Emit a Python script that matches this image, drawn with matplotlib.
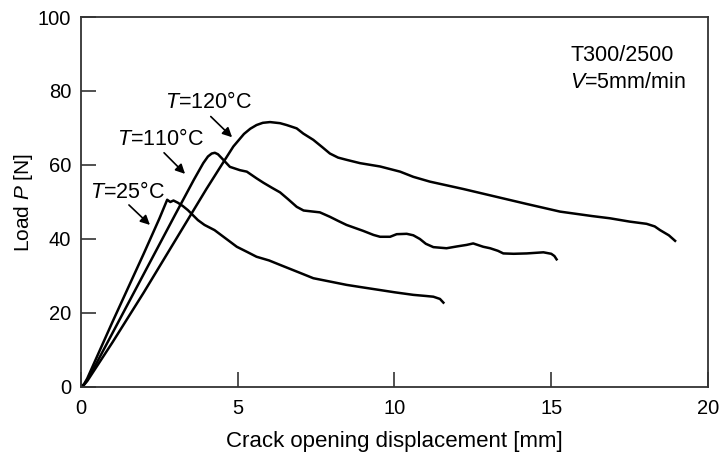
import numpy as np
import matplotlib.pyplot as plt

plt.rcParams['font.family'] = ['Liberation Sans', 'DejaVu Sans']
plt.rcParams['mathtext.fontset'] = 'custom'
plt.rcParams['mathtext.it'] = 'Liberation Sans:italic'
plt.rcParams['mathtext.rm'] = 'Liberation Sans'

# load-displacement curves (COD in mm, load in N)
cod_25 = [0, 0.1, 0.2, 0.5, 1.0, 2.0, 2.5, 2.75, 2.85, 2.95, 3.09, 3.25, 3.41,
          3.73, 3.94, 4.26, 4.75, 4.97, 5.3, 5.6, 6.0, 6.35, 7.0, 7.41, 8.0,
          8.47, 9.0, 9.54, 10.0, 10.6, 11.0, 11.24, 11.45, 11.56]
load_25 = [0, 0.8, 2.3, 8, 17.5, 36, 45.5, 50.6, 50.0, 50.4, 49.8, 48.9, 47.8,
           45.1, 43.8, 42.4, 39.3, 37.9, 36.5, 35.2, 34.2, 33.0, 30.8, 29.4, 28.4,
           27.6, 26.9, 26.2, 25.6, 24.9, 24.6, 24.4, 23.8, 22.8]

cod_110 = [0, 0.1, 0.2, 0.5, 1.0, 2.0, 3.0, 3.6, 3.9, 4.05, 4.17, 4.27, 4.37,
           4.45, 4.54, 4.75, 5.07, 5.29, 5.6, 5.82, 6.1, 6.35, 6.6, 6.88, 7.1,
           7.41, 7.62, 7.94, 8.2, 8.47, 9.0, 9.33, 9.54, 9.86, 10.07, 10.39,
           10.6, 10.81, 11.0, 11.24, 11.66, 12.0, 12.3, 12.51, 12.83, 13.05,
           13.3, 13.47, 13.8, 14.22, 14.75, 15.0, 15.1, 15.17]
load_110 = [0, 0.7, 1.9, 6.5, 14.5, 30.5, 46.5, 56, 60.5, 62.3, 63.1, 63.3, 62.9,
            62.2, 61.4, 59.5, 58.6, 58.2, 56.4, 55.2, 53.8, 52.6, 50.8, 48.7, 47.7,
            47.4, 47.2, 46.0, 44.9, 43.8, 42.2, 41.1, 40.6, 40.6, 41.3, 41.4,
            41.0, 40.0, 38.7, 37.8, 37.5, 38.0, 38.4, 38.8, 37.9, 37.5,
            36.8, 36.1, 36.0, 36.1, 36.4, 36.0, 35.4, 34.5]

cod_120 = [0, 0.1, 0.2, 0.5, 1.0, 2.0, 3.0, 4.0, 4.5, 4.86, 5.2, 5.4, 5.6, 5.8,
           6.03, 6.35, 6.56, 6.88, 7.09, 7.41, 7.7, 7.94, 8.2, 8.47, 8.9, 9.54,
           10.18, 10.6, 11.13, 12.2, 13.15, 14.2, 15.28, 16.3, 16.87, 17.5,
           18.04, 18.3, 18.47, 18.75, 18.95]
load_120 = [0, 0.6, 1.6, 5.5, 12, 25.5, 39.5, 53.5, 60.2, 65.0, 68.4, 69.8, 70.8,
            71.4, 71.6, 71.3, 70.8, 69.9, 68.5, 66.8, 64.8, 63.1, 62.0, 61.4,
            60.5, 59.6, 58.2, 56.8, 55.5, 53.5, 51.6, 49.5, 47.4, 46.2, 45.6,
            44.7, 44.1, 43.4, 42.4, 41.0, 39.5]

fig = plt.figure(figsize=(7.21, 4.57), dpi=100)
ax = fig.add_axes([0.1123, 0.1532, 0.8697, 0.8096])

for x, y in [(cod_25, load_25), (cod_110, load_110), (cod_120, load_120)]:
    ax.plot(x, y, color='black', lw=1.8, solid_joinstyle='round')

ax.set_xlim(0, 20)
ax.set_ylim(0, 100)
ax.set_xticks([0, 5, 10, 15, 20])
ax.set_yticks([0, 20, 40, 60, 80, 100])
ax.tick_params(direction='in', length=11, width=1.2, labelsize=14.5,
               top=False, right=False, color='#333333')
ax.tick_params(axis='x', pad=9)
ax.tick_params(axis='y', pad=7)
for s in ax.spines.values():
    s.set_linewidth(1.3)
    s.set_color('#333333')

ax.set_xlabel('Crack opening displacement [mm]', fontsize=16, labelpad=9)
ax.set_ylabel('Load $\\mathit{P}$ [N]', fontsize=15, labelpad=2)

# temperature labels with arrows
labels = [('$\\mathit{T}$=120°C', (4.05, 76.8), (4.14, 73.1), (4.82, 67.5)),
          ('$\\mathit{T}$=110°C', (2.52, 66.8), (2.65, 63.3), (3.32, 57.6)),
          ('$\\mathit{T}$=25°C', (1.47, 52.7), (1.53, 49.2), (2.2, 43.8))]
for txt, pos, tail, head in labels:
    ax.text(pos[0], pos[1], txt, fontsize=15.5, ha='center', va='center')
    ax.annotate('', xy=head, xytext=tail,
                arrowprops=dict(arrowstyle='-|>', color='black', lw=1.2,
                                mutation_scale=14, shrinkA=0, shrinkB=0))

ax.text(15.6, 92.5, 'T300/2500', fontsize=15.5, ha='left', va='top')
ax.text(15.6, 85.0, '$\\mathit{V}$=5mm/min', fontsize=15.5, ha='left', va='top')

fig.savefig('out.png', dpi=100)
